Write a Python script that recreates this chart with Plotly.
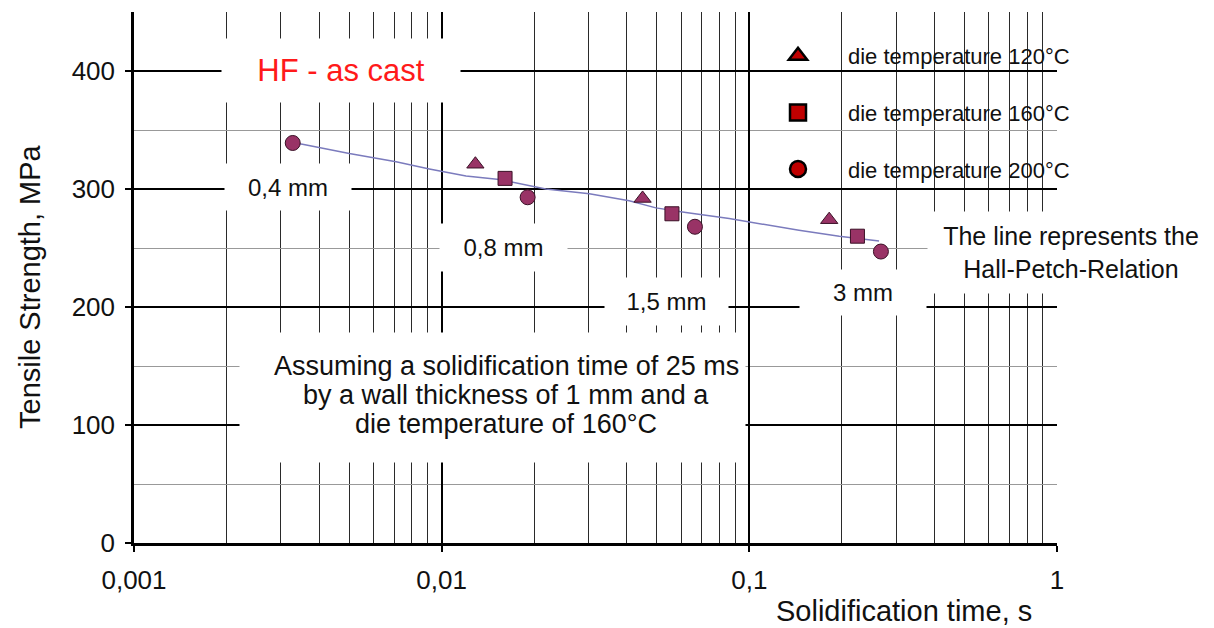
import plotly.graph_objects as go

# ---- data ----
tri_t = [0.01287, 0.04498, 0.1818]
tri_s = [321, 292, 274]
sq_t = [0.01607, 0.05603, 0.2246]
sq_s = [309, 279, 260]
ci_t = [0.00328, 0.01903, 0.06656, 0.2677]
ci_s = [339, 293, 268, 247]
line_t = [0.00328, 0.00353, 0.00501, 0.00711, 0.00912, 0.0120, 0.0154, 0.0218,
          0.0302, 0.0407, 0.0497, 0.0622, 0.0860, 0.0999, 0.145, 0.196, 0.264]
line_s = [339, 338, 330, 323, 317, 311, 308, 300, 296, 290, 284, 280, 275, 272,
          265, 260, 256]
legend_names = ["die temperature 120°C", "die temperature 160°C", "die temperature 200°C"]
legend_symbols = ["triangle-up", "square", "circle"]
x_tickvals = [0.001, 0.01, 0.1, 1]
x_ticktext = ["0,001", "0,01", "0,1", "1"]
y_tickvals = [0, 100, 200, 300, 400]

FONT = "Arial, Liberation Sans, sans-serif"
OFF = 8  # page body margin
W, H = 1214 - OFF, 628 - OFF
L, R, T, B = 134 - OFF, 157, 12 - OFF, 85
PW, PH = 1214 - 134 - 157, 628 - 12 - 85


def px(x):
    return (x - 134) / PW


def py(y):
    return (543 - y) / PH


fig = go.Figure()

fig.add_trace(go.Scatter(x=line_t, y=line_s, mode="lines",
                         line=dict(color="#7b7bbd", width=1.5),
                         showlegend=False, hoverinfo="skip"))

mk = dict(color="#993366", size=14, line=dict(color="#3a1026", width=1))
fig.add_trace(go.Scatter(x=tri_t, y=tri_s, mode="markers", showlegend=False,
                         marker=dict(mk, symbol="triangle-up", size=15)))
fig.add_trace(go.Scatter(x=sq_t, y=sq_s, mode="markers", showlegend=False,
                         marker=dict(mk, symbol="square")))
fig.add_trace(go.Scatter(x=ci_t, y=ci_s, mode="markers", showlegend=False,
                         marker=dict(mk, symbol="circle", size=15)))

for i, (nm, sym) in enumerate(zip(legend_names, legend_symbols)):
    fig.add_trace(go.Scatter(x=[None], y=[None], mode="markers", name=nm,
                             legendgroup=f"g{i}",
                             marker=dict(symbol=sym, size=18, color="#c00000",
                                         line=dict(color="black", width=2.5))))

minor_x = [m * 10 ** e for e in (-3, -2, -1) for m in range(2, 10)]

fig.update_xaxes(type="log", range=[-3, 0], tickvals=x_tickvals, ticktext=x_ticktext,
                 showgrid=True, gridcolor="black", gridwidth=1.5,
                 showline=True, linecolor="black", linewidth=2.5,
                 ticks="outside", ticklen=6, tickwidth=2, tickcolor="black",
                 ticklabelstandoff=6,
                 tickfont=dict(family=FONT, size=26, color="#111"),
                 minor=dict(tickvals=minor_x, showgrid=True, gridcolor="#2a2a2a",
                            gridwidth=1, ticks=""),
                 zeroline=False)
fig.update_yaxes(range=[0, 450], tickvals=y_tickvals,
                 showgrid=True, gridcolor="black", gridwidth=1.5,
                 showline=True, linecolor="black", linewidth=2.5,
                 ticks="outside", ticklen=6, tickwidth=2, tickcolor="black",
                 ticklabelstandoff=5,
                 tickfont=dict(family=FONT, size=26, color="#111"),
                 minor=dict(dtick=50, showgrid=True, gridcolor="#999",
                            gridwidth=1, ticks=""),
                 zeroline=False)

# white background behind legend text
fig.add_shape(type="rect", xref="paper", yref="paper",
              x0=px(816), x1=px(1214), y0=py(212), y1=py(33),
              fillcolor="white", line=dict(width=0), layer="between")

ann = []


def box(text, cx, cy, w, h, size=24, color="#111"):
    ann.append(dict(text=text, x=px(cx), y=py(cy), xref="paper", yref="paper",
                    xanchor="center", yanchor="middle", showarrow=False,
                    width=w, height=h, bgcolor="white", borderpad=0,
                    font=dict(family=FONT, size=size, color=color)))


box("HF - as cast", 341, 70.5, 238, 63, size=31, color="#ff1a1a")
box("0,4 mm", 288, 187, 126, 46)
box("0,8 mm", 503.5, 247.5, 127, 47)
box("1,5 mm", 666.5, 301.5, 123, 47)
box("3 mm", 863, 292.5, 126, 45)
box("The line represents the<br>Hall-Petch-Relation", 1071, 252.5, 286, 81, size=25)
box(" ", 492.5, 397.5, 505, 129)
for txt, yy in [("Assuming a solidification time of 25 ms", 366),
                ("by a wall thickness of 1 mm and a", 395),
                ("die temperature of 160°C", 424)]:
    ann.append(dict(text=txt, x=px(506), y=py(yy), xref="paper", yref="paper",
                    xanchor="center", yanchor="middle", showarrow=False,
                    font=dict(family=FONT, size=27, color="#111")))

ann.append(dict(text="Solidification time, s", x=px(904), y=py(611), xref="paper",
                yref="paper", xanchor="center", yanchor="middle", showarrow=False,
                font=dict(family=FONT, size=29, color="#111")))
ann.append(dict(text="Tensile Strength, MPa", x=px(30), y=py(287), xref="paper",
                yref="paper", xanchor="center", yanchor="middle", showarrow=False,
                textangle=-90, font=dict(family=FONT, size=29, color="#111")))

fig.update_layout(
    width=W, height=H, margin=dict(l=L, r=R, t=T, b=B),
    paper_bgcolor="white", plot_bgcolor="white",
    annotations=ann,
    legend=dict(x=px(748), y=py(35), xanchor="left", yanchor="top",
                bgcolor="rgba(0,0,0,0)", itemwidth=90, tracegroupgap=25,
                font=dict(family=FONT, size=22, color="#111")),
)

fig.write_html("out.html")
